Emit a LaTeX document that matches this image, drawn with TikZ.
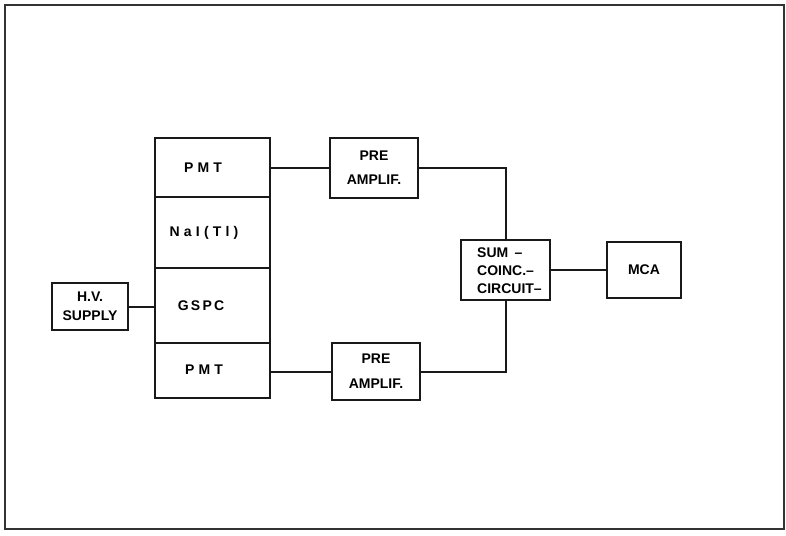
\documentclass[tikz,border=0pt]{standalone}
\usepackage{fontspec}
\setmainfont{Liberation Sans}
\newfontfamily\spacedfont[LetterSpace=30]{Liberation Sans}
\newfontfamily\gspcfont[LetterSpace=16]{Liberation Sans}
\begin{document}
\begin{tikzpicture}[x=1pt,y=-1pt,
  blk/.style={draw=black!90,line width=2.7pt,rectangle,inner sep=0pt,align=center,
    font=\fontsize{14}{16}\selectfont\bfseries},
  wire/.style={draw=black!90,line width=2pt},
  lbl/.style={font=\fontsize{14}{16}\selectfont\bfseries,inner sep=0pt}]
\useasboundingbox (0,0) rectangle (786,535);
\draw[black!80,line width=2.4pt] (5,5) rectangle (784,529);
% detector stack
\node[blk,minimum width=115pt,minimum height=59pt] (pmt1) at (212.5,167.5) {};
\node[blk,minimum width=115pt,minimum height=71pt] (nai) at (212.5,232.5) {};
\node[blk,minimum width=115pt,minimum height=75pt] (gspc) at (212.5,305.5) {};
\node[blk,minimum width=115pt,minimum height=55pt] (pmt2) at (212.5,370.5) {};
\node[lbl] (tpmt1) at (203,168) {\spacedfont\bfseries PMT};
\node[lbl] (tnai) at (204,233) {\spacedfont\bfseries NaI(Tl)};
\node[lbl] (tgspc) at (201,306) {\gspcfont\bfseries GSPC};
\node[lbl] (tpmt2) at (204,370) {\spacedfont\bfseries PMT};
% others
\node[blk,minimum width=76pt,minimum height=47pt] (hv) at (90,306.5) {H.V.\\[3pt]SUPPLY};
\node[blk,minimum width=88pt,minimum height=60pt] (pre1) at (374,168) {PRE\\[8pt]AMPLIF.};
\node[blk,minimum width=88pt,minimum height=57pt] (pre2) at (376,371.5) {PRE\\[9pt]AMPLIF.};
\node[blk,minimum width=89pt,minimum height=60pt] (sum) at (505.5,270) {};
\node[lbl,anchor=west,align=left] (tsum) at (477,271) {SUM \,--\\[2pt]COINC.--\\[2pt]CIRCUIT--};
\node[blk,minimum width=74pt,minimum height=56pt] (mca) at (644,270) {MCA};
% connectors
\draw[wire] (hv.east) -- (hv.east -| gspc.west);
\draw[wire] (pmt1.east) -- (pre1.west |- pmt1.east);
\draw[wire] (pmt2.east |- pre2.west) -- (pre2.west);
\draw[wire] (pre1.east) -| (sum.north);
\draw[wire] (pre2.east) -| (sum.south);
\draw[wire] (sum.east) -- (mca.west);
\end{tikzpicture}
\end{document}
